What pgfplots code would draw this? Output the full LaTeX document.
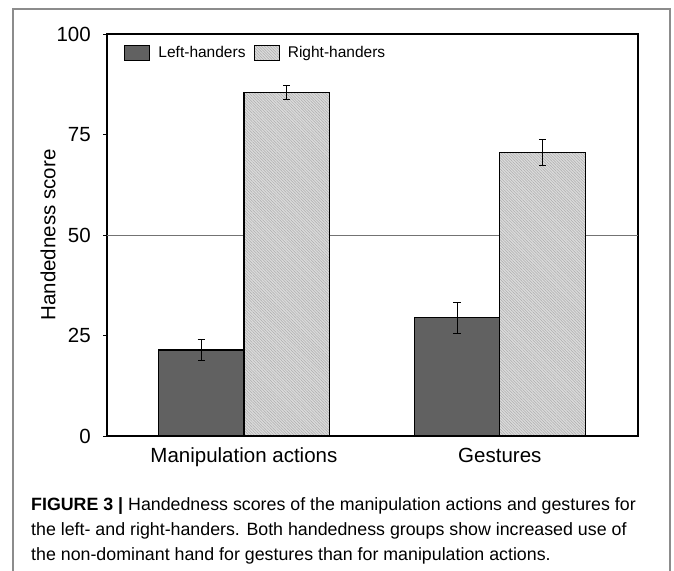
\documentclass[border=0pt]{standalone}
\usepackage{fontspec}
\setmainfont{Liberation Sans}
\usepackage{pgfplots}
\pgfplotsset{compat=1.18}
\usetikzlibrary{patterns.meta}

\pgfplotstableread{
x y err
0 21.4 2.6
1 29.4 3.8
}\lefthanders
\pgfplotstableread{
x y err
0 85.4 1.8
1 70.6 3.2
}\righthanders

\begin{document}
\begin{tikzpicture}[x=1bp,y=1bp]
\useasboundingbox (0,0) rectangle (674,-571);
\draw[black!45, line width=1.3bp] (13,-575) -- (13,-9) -- (670,-9) -- (670,-575);
\begin{axis}[
  at={(107bp,-436bp)}, anchor=south west,
  scale only axis, width=531bp, height=402bp,
  xmin=-0.535, xmax=1.54, ymin=0, ymax=100,
  ybar=0pt, bar width=85.5bp,
  ytick={0,25,50,75,100},
  ytick pos=left,
  xtick={0,1}, xticklabels={Manipulation actions, Gestures},
  xtick style={draw=none},
  ytick style={black, line width=0.9bp},
  tick align=outside, major tick length=4bp,
  axis line style={line width=1.3bp},
  /pgf/number format/assume math mode=true,
  ticklabel style={font=\fontsize{20.5bp}{24bp}\selectfont},
  yticklabel style={inner sep=0pt, anchor=east, xshift=-12bp},
  xticklabel style={inner sep=0pt, anchor=base, yshift=-22bp},
  extra y ticks={50}, extra y tick labels={},
  extra y tick style={grid=major, major grid style={black!55, line width=0.9bp}},
  ylabel={Handedness score},
  ylabel style={font=\fontsize{20.5bp}{24bp}\selectfont, at={(axis description cs:-0.111,0.5)}, anchor=center, rotate=0},
  legend columns=2,
  legend style={draw=none, fill=none, at={(0.032,0.953)}, anchor=west, inner sep=0pt,
    font=\fontsize{15.5bp}{18bp}\selectfont,
    nodes={inner sep=0pt},
    /tikz/every odd column/.append style={column sep=8bp},
    /tikz/every even column/.append style={column sep=8bp}},
  legend image code/.code={\draw[#1] (0bp,-7.5bp) rectangle (25bp,7.5bp);},
  error bars/error bar style={black, line width=1bp},
  error bars/error mark options={rotate=90, mark size=3.6bp, line width=1bp, black},
]
\addplot[draw=black, line width=1.3bp, fill=black!62,
  error bars/.cd, y dir=both, y explicit]
  table[x=x, y=y, y error=err] {\lefthanders};
\addplot[draw=black, line width=1.3bp, fill=black!14,
  postaction={pattern={Lines[angle=-45,distance=2bp,line width=0.5bp]}, pattern color=black!32},
  error bars/.cd, y dir=both, y explicit]
  table[x=x, y=y, y error=err] {\righthanders};
\legend{Left-handers, Right-handers}
\end{axis}
\node[anchor=base west, inner sep=0pt, font=\fontsize{17.8bp}{20bp}\selectfont] at (31,-510.7)
  {\textbf{FIGURE 3 |} Handedness scores of the manipulation actions and gestures for};
\node[anchor=base west, inner sep=0pt, font=\fontsize{17.8bp}{20bp}\selectfont] at (31,-535.5)
  {the left- and right-handers. Both handedness groups show increased use of};
\node[anchor=base west, inner sep=0pt, font=\fontsize{17.8bp}{20bp}\selectfont] at (31,-560.3)
  {the non-dominant hand for gestures than for manipulation actions.};
\end{tikzpicture}
\end{document}
